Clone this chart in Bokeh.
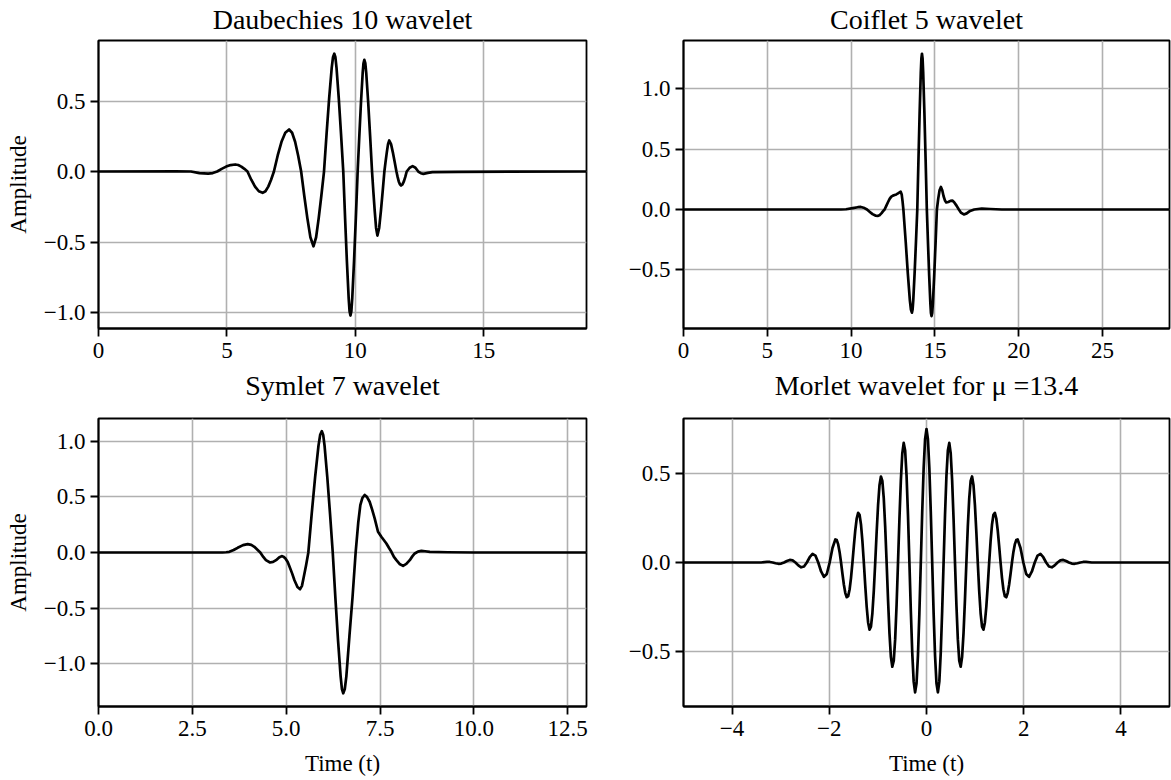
from bokeh.plotting import figure
from bokeh.layouts import column, row
from bokeh.models import FixedTicker, CustomJSTickFormatter, Range1d, Title
from bokeh.embed import file_html
from bokeh.resources import INLINE

# ---------------- data ----------------
titles = ["Daubechies 10 wavelet", "Coiflet 5 wavelet", "Symlet 7 wavelet", "Morlet wavelet for μ =13.4"]
y_label = "Amplitude"
x_label = "Time (t)"

db10_points = [
    (0.0, 0.0), (3.0, 0.001), (3.6, 0.0), (3.93, -0.011), (4.27, -0.015), (4.45, -0.011), (4.62, 0.0),
    (4.795, 0.019), (4.97, 0.035), (5.145, 0.046), (5.32, 0.05), (5.44, 0.046), (5.56, 0.035), (5.68, 0.019),
    (5.80, 0.0), (5.9475, -0.058), (6.095, -0.107), (6.2425, -0.140), (6.39, -0.151), (6.50, -0.140),
    (6.61, -0.107), (6.72, -0.058), (6.83, 0.0), (6.9775, 0.114), (7.125, 0.211), (7.2725, 0.275),
    (7.42, 0.298), (7.5375, 0.275), (7.655, 0.211), (7.7725, 0.114), (7.89, 0.0), (8.01, -0.170),
    (8.13, -0.329), (8.25, -0.466), (8.37, -0.53), (8.4725, -0.466), (8.575, -0.329), (8.6775, -0.170),
    (8.78, 0.0), (8.88, 0.267), (8.98, 0.518), (9.08, 0.735), (9.13, 0.810), (9.18, 0.835), (9.224, 0.810),
    (9.2675, 0.735), (9.355, 0.518), (9.4425, 0.267), (9.53, 0.0), (9.60, -0.327), (9.67, -0.633),
    (9.74, -0.898), (9.775, -0.990), (9.81, -1.021), (9.845, -0.990), (9.88, -0.898), (9.95, -0.633),
    (10.02, -0.327), (10.09, 0.0), (10.155, 0.253), (10.22, 0.491), (10.285, 0.697), (10.3175, 0.768),
    (10.35, 0.792), (10.3875, 0.768), (10.425, 0.697), (10.50, 0.491), (10.575, 0.253), (10.65, 0.0),
    (10.7025, -0.145), (10.755, -0.281), (10.8075, -0.400), (10.86, -0.454), (10.9275, -0.400),
    (10.995, -0.281), (11.0625, -0.145), (11.13, 0.0), (11.1775, 0.070), (11.225, 0.136), (11.2725, 0.194),
    (11.32, 0.22), (11.39, 0.194), (11.46, 0.136), (11.53, 0.070), (11.60, 0.0), (11.645, -0.038),
    (11.69, -0.070), (11.735, -0.091), (11.78, -0.099), (11.835, -0.091), (11.89, -0.070), (11.945, -0.038),
    (12.0, 0.0), (12.115, 0.027), (12.23, 0.038), (12.34, 0.027), (12.45, 0.0), (12.55, -0.012),
    (12.65, -0.017), (12.82, -0.010), (13.0, -0.004), (14.0, -0.002), (19.0, 0.0),
]

coif5_points = [
    (0.0, 0.0), (9.4, 0.0), (9.7, 0.002), (10.1, 0.012), (10.4, 0.019), (10.58, 0.021), (10.8, 0.012),
    (10.95, 0.0), (11.12, -0.02), (11.28, -0.038), (11.45, -0.05), (11.61, -0.053), (11.72, -0.045),
    (11.82, -0.03), (11.91, -0.014), (12.0, 0.0), (12.1, 0.03), (12.2, 0.06), (12.3, 0.088), (12.4, 0.107),
    (12.5, 0.115), (12.6, 0.12), (12.7, 0.125), (12.8, 0.133), (12.9, 0.143), (12.96, 0.147), (13.02, 0.125),
    (13.07, 0.07), (13.12, 0.0), (13.2625, -0.273), (13.385, -0.529), (13.5075, -0.752), (13.57, -0.828),
    (13.63, -0.854), (13.67, -0.828), (13.71, -0.752), (13.79, -0.529), (13.87, -0.273), (13.95, 0.0),
    (14.02, 0.412), (14.09, 0.799), (14.16, 1.134), (14.195, 1.25), (14.23, 1.289), (14.266, 1.25),
    (14.3025, 1.134), (14.375, 0.799), (14.4475, 0.412), (14.52, 0.0), (14.59, -0.282), (14.66, -0.547),
    (14.73, -0.776), (14.765, -0.856), (14.80, -0.882), (14.84, -0.856), (14.88, -0.776), (14.96, -0.547),
    (15.04, -0.282), (15.12, 0.0), (15.2, 0.09), (15.28, 0.16), (15.36, 0.187), (15.44, 0.16), (15.52, 0.11),
    (15.6, 0.075), (15.68, 0.058), (15.8, 0.062), (15.93, 0.072), (16.04, 0.074), (16.15, 0.06), (16.3, 0.03),
    (16.43, 0.0), (16.55, -0.025), (16.73, -0.041), (16.9, -0.032), (17.1, -0.012), (17.35, 0.0),
    (17.8, 0.008), (18.3, 0.004), (19.0, 0.0), (29.0, 0.0),
]

sym7_points = [
    (0.0, 0.0), (3.3, 0.0), (3.4, 0.002), (3.485, 0.006), (3.6, 0.022), (3.707, 0.042), (3.85, 0.066),
    (3.974, 0.075), (4.07, 0.068), (4.152, 0.051), (4.24, 0.023), (4.31, 0.0), (4.39, -0.04), (4.46, -0.069),
    (4.57, -0.09), (4.65, -0.085), (4.73, -0.069), (4.81, -0.045), (4.88, -0.033), (4.93, -0.038),
    (4.98, -0.054), (5.04, -0.085), (5.09, -0.129), (5.16, -0.19), (5.22, -0.249), (5.30, -0.31),
    (5.37, -0.33), (5.42, -0.30), (5.46, -0.234), (5.53, -0.114), (5.59, 0.0), (5.68, 0.349), (5.77, 0.676),
    (5.86, 0.959), (5.905, 1.057), (5.95, 1.09), (5.986, 1.057), (6.0225, 0.959), (6.095, 0.676),
    (6.1675, 0.349), (6.24, 0.0), (6.31, -0.405), (6.38, -0.784), (6.45, -1.113), (6.485, -1.227),
    (6.52, -1.265), (6.561, -1.227), (6.6025, -1.113), (6.685, -0.75), (6.7675, -0.40), (6.85, 0.0),
    (6.92, 0.27), (6.975, 0.426), (7.03, 0.49), (7.09, 0.517), (7.15, 0.50), (7.223, 0.456), (7.29, 0.385),
    (7.357, 0.306), (7.446, 0.186), (7.535, 0.141), (7.60, 0.112), (7.669, 0.081), (7.74, 0.04),
    (7.802, 0.006), (7.87, -0.04), (7.936, -0.069), (8.02, -0.103), (8.114, -0.12), (8.20, -0.103),
    (8.292, -0.069), (8.36, -0.035), (8.425, -0.009), (8.51, 0.008), (8.603, 0.015), (8.70, 0.011),
    (8.826, 0.006), (9.3, 0.002), (10.0, 0.0), (13.0, 0.0),
]

# Morlet: the picture is mirror-symmetric about t = 0; right half read here
morlet_right_half = [
    (0.0, 0.751), (0.0293, 0.6936), (0.0586, 0.5300), (0.0879, 0.2865), (0.1172, 0.0), (0.1465, -0.2846),
    (0.1758, -0.5228), (0.2051, -0.6795), (0.2345, -0.7306), (0.2638, -0.6702), (0.2931, -0.5086),
    (0.3224, -0.2731), (0.3517, 0.0), (0.3810, 0.2675), (0.4103, 0.4881), (0.4396, 0.6300), (0.4689, 0.6728),
    (0.4982, 0.6130), (0.5275, 0.4620), (0.5568, 0.2463), (0.5861, 0.0), (0.6154, -0.2380), (0.6447, -0.4313),
    (0.6740, -0.5529), (0.7033, -0.5864), (0.7327, -0.5306), (0.7620, -0.3972), (0.7913, -0.2103),
    (0.8206, 0.0), (0.8499, 0.2005), (0.8792, 0.3608), (0.9085, 0.4593), (0.9378, 0.4838), (0.9671, 0.4347),
    (0.9964, 0.3232), (1.0257, 0.1700), (1.0550, 0.0), (1.0843, -0.1598), (1.1136, -0.2856),
    (1.1429, -0.3611), (1.1722, -0.3778), (1.2015, -0.3372), (1.2309, -0.2489), (1.2602, -0.1300),
    (1.2895, 0.0), (1.3188, 0.1206), (1.3481, 0.2140), (1.3774, 0.2687), (1.4067, 0.2792), (1.4360, 0.2474),
    (1.4653, 0.1815), (1.4946, 0.0941), (1.5239, 0.0), (1.5532, -0.0861), (1.5825, -0.1518),
    (1.6118, -0.1893), (1.6411, -0.1953), (1.6704, -0.1720), (1.6997, -0.1252), (1.7291, -0.0645),
    (1.7584, 0.0), (1.7877, 0.0582), (1.8170, 0.1019), (1.8463, 0.1262), (1.8756, 0.1294), (1.9342, 0.0818),
    (1.9928, 0.0), (2.0514, -0.0648), (2.1100, -0.0811), (2.1686, -0.0506), (2.2273, 0.0), (2.2859, 0.0390),
    (2.3445, 0.0481), (2.4031, 0.0296), (2.4617, 0.0), (2.5203, -0.0222), (2.5789, -0.0270),
    (2.6375, -0.0164), (2.6962, 0.0), (2.7548, 0.0119), (2.8134, 0.0144), (2.8720, 0.0086), (2.9306, 0.0),
    (2.9892, -0.0061), (3.0478, -0.0072), (3.1064, -0.0042), (3.1650, 0.0), (3.2236, 0.0030),
    (3.2823, 0.0034), (3.40, 0.0), (5.0, 0.0),
]

db10_xticks = [0, 5, 10, 15]
db10_xlabels = ["0", "5", "10", "15"]
db10_yticks = [-1.0, -0.5, 0.0, 0.5]
db10_ylabels = ["\u22121.0", "\u22120.5", "0.0", "0.5"]

coif5_xticks = [0, 5, 10, 15, 20, 25]
coif5_xlabels = ["0", "5", "10", "15", "20", "25"]
coif5_yticks = [-0.5, 0.0, 0.5, 1.0]
coif5_ylabels = ["\u22120.5", "0.0", "0.5", "1.0"]

sym7_xticks = [0.0, 2.5, 5.0, 7.5, 10.0, 12.5]
sym7_xlabels = ["0.0", "2.5", "5.0", "7.5", "10.0", "12.5"]
sym7_yticks = [-1.0, -0.5, 0.0, 0.5, 1.0]
sym7_ylabels = ["\u22121.0", "\u22120.5", "0.0", "0.5", "1.0"]

morlet_xticks = [-4, -2, 0, 2, 4]
morlet_xlabels = ["\u22124", "\u22122", "0", "2", "4"]
morlet_yticks = [-0.5, 0.0, 0.5]
morlet_ylabels = ["\u22120.5", "0.0", "0.5"]

# ---------------- build ----------------
FONT = "Liberation Serif"
TICK_SIZE = "23px"
TITLE_SIZE = "28px"

morlet_points = [(-t, v) for (t, v) in reversed(morlet_right_half) if t > 0] + morlet_right_half


def fmt(vals, labs):
    return CustomJSTickFormatter(
        args=dict(vals=vals, labs=labs),
        code="const i = vals.findIndex((v) => Math.abs(v - tick) < 1e-9); return i >= 0 ? labs[i] : '';",
    )


def style_title(t, standoff):
    t.text_font = FONT
    t.text_font_size = TITLE_SIZE
    t.text_font_style = "normal"
    t.text_line_height = 1.0
    t.align = "center"
    t.text_color = "black"
    t.standoff = standoff


def make_panel(points, title, xr, yr, xt, xl, yt, yl, width, height, borders, ylab=None, xlab=None,
               title_below=None):
    bl, br, bt, bb = borders
    p = figure(
        width=width, height=height,
        x_range=Range1d(*xr), y_range=Range1d(*yr),
        output_backend="svg", toolbar_location=None,
        min_border_left=bl, min_border_right=br, min_border_top=bt, min_border_bottom=bb,
        title=title,
    )
    ts = [a for a, b in points]
    vs = [b for a, b in points]
    p.line(ts, vs, line_color="black", line_width=2.7, line_join="round")

    if title:
        style_title(p.title, 12)

    p.xaxis.ticker = FixedTicker(ticks=xt)
    p.yaxis.ticker = FixedTicker(ticks=yt)
    p.xgrid.ticker = FixedTicker(ticks=xt)
    p.ygrid.ticker = FixedTicker(ticks=yt)
    p.xaxis.formatter = fmt(xt, xl)
    p.yaxis.formatter = fmt(yt, yl)
    for ax in (p.xaxis, p.yaxis):
        ax.major_label_text_font = FONT
        ax.major_label_text_font_size = TICK_SIZE
        ax.major_label_text_color = "black"
        ax.major_tick_out = 8
        ax.major_tick_in = 0
        ax.major_tick_line_width = 1.8
        ax.major_tick_line_color = "black"
        ax.minor_tick_line_color = None
        ax.axis_line_width = 1.8
        ax.axis_line_color = "black"
        ax.axis_label_text_font = FONT
        ax.axis_label_text_font_size = TICK_SIZE
        ax.axis_label_text_font_style = "normal"
        ax.axis_label_text_color = "black"
    p.xaxis.major_label_standoff = 6
    p.yaxis.major_label_standoff = 5
    if ylab:
        p.yaxis.axis_label = ylab
        p.yaxis.axis_label_standoff = 10
    if xlab:
        p.xaxis.axis_label = xlab
        p.xaxis.axis_label_standoff = 12
        p.xaxis.axis_label_text_line_height = 1.0
    if title_below:
        # title of the panel underneath, drawn in this figure's lower margin
        tb = Title(text=title_below)
        style_title(tb, 15)
        p.add_layout(tb, "below")

    p.grid.grid_line_color = "#b0b0b0"
    p.grid.grid_line_width = 1.6
    p.outline_line_color = "black"
    p.outline_line_width = 1.8
    p.outline_line_alpha = 1.0
    p.background_fill_color = "white"
    p.border_fill_color = "white"
    return p


p1 = make_panel(db10_points, titles[0], (0, 19), (-1.113, 0.929), db10_xticks, db10_xlabels,
                db10_yticks, db10_ylabels, 596, 416, (98, 10, 46, 82), ylab=y_label, title_below=titles[2])
p2 = make_panel(coif5_points, titles[1], (0, 29), (-0.985, 1.399), coif5_xticks, coif5_xlabels,
                coif5_yticks, coif5_ylabels, 575, 416, (87, 2, 46, 82), title_below=titles[3])
p3 = make_panel(sym7_points, None, (0, 13), (-1.384, 1.204), sym7_xticks, sym7_xlabels,
                sym7_yticks, sym7_ylabels, 596, 370, (98, 10, 8, 74), ylab=y_label, xlab=x_label)
p4 = make_panel(morlet_points, None, (-5, 5), (-0.81, 0.81), morlet_xticks, morlet_xlabels,
                morlet_yticks, morlet_ylabels, 575, 370, (87, 2, 8, 74), xlab=x_label)

layout = column(row(p1, p2), row(p3, p4), styles={"margin-top": "-6px"})
open("out.html", "w").write(file_html(layout, INLINE))
